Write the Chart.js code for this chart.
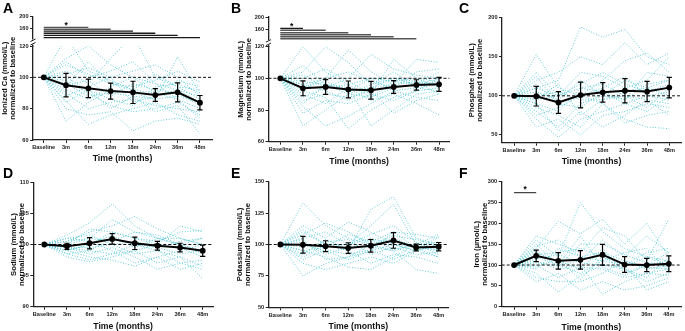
<!DOCTYPE html>
<html>
<head>
<meta charset="utf-8">
<script src="https://cdn.jsdelivr.net/npm/chart.js@4.4.1/dist/chart.umd.min.js"></script>
<style>
  body { margin: 0; background: #fff; }
  #fig { position: relative; width: 685px; height: 331px; overflow: hidden; background: #fff; }
  canvas { position: absolute; }
  .letter { position: absolute; font: bold 14px Arial, "Liberation Sans", sans-serif; line-height: 14px; color: #000; }
</style>
</head>
<body>
<div id="fig">
  <canvas id="chartA" style="left:0px;top:0px" width="228" height="170"></canvas>
  <canvas id="chartB" style="left:228px;top:0px" width="228" height="170"></canvas>
  <canvas id="chartC" style="left:456px;top:0px" width="229" height="170"></canvas>
  <canvas id="chartD" style="left:0px;top:165px" width="228" height="170"></canvas>
  <canvas id="chartE" style="left:228px;top:165px" width="228" height="170"></canvas>
  <canvas id="chartF" style="left:456px;top:165px" width="229" height="170"></canvas>
  <div class="letter" style="left:3px;top:1px">A</div>
  <div class="letter" style="left:231px;top:1px">B</div>
  <div class="letter" style="left:459px;top:1px">C</div>
  <div class="letter" style="left:3px;top:166px">D</div>
  <div class="letter" style="left:231px;top:166px">E</div>
  <div class="letter" style="left:459px;top:166px">F</div>
</div>
<script>
Chart.defaults.font.family = 'Arial, "Liberation Sans", sans-serif';
Chart.defaults.color = '#1a1a1a';

const timeLabels = ['Baseline', '3m', '6m', '12m', '18m', '24m', '36m', '48m'];

// A - ionized calcium
const caMean = [100, 95, 93, 91.2, 90.4, 88.7, 90.4, 83.8];
const caErr = [0, 7.5, 5.9, 5.1, 7.1, 4.1, 6.1, 4.6];
const caTicks = [60, 80, 100, 120];
const caUpperTicks = [160, 200];
const caSigEnd = [2, 3, 4, 5, 6, 7];
const caSigLevel = [165, 159, 153, 146, 139, 132];
const caStarX = [1];
const caStarY = [178];
const caPatients = [
  [100, 126, 104, 98, 92, 90, 86, 80],
  [100, 112, 120, 108, 100, 96, 92, 88],
  [100, 104, 96, 112, 127, 100, 94, 86],
  [100, 96, 88, 90, 88, 86, 113, 90],
  [100, 90, 80, 84, 86, 82, 80, 78],
  [100, 85, 70, 76, 80, 84, 76, 72],
  [100, 108, 102, 96, 94, 98, 104, 97],
  [100, 80, 76, 78, 66, 72, 74, 70],
  [100, 95, 98, 88, 96, 92, 90, 82],
  [100, 72, 84, 92, 90, 86, 88, 84],
  [100, 100, 92, 86, 82, 94, 96, 90],
  [100, 88, 94, 100, 104, 108, 100, 88],
  [100, 98, 90, 82, 78, 80, 84, 76],
  [100, 92, 86, 94, 100, 90, 98, 94],
  [100, 102, 106, 100, 84, 88, 92, 84],
  [100, 84, 92, 80, 88, 78, 82, 64],
  [100, 110, 100, 104, 110, 96, 86, 74],
  [100, 94, 110, 96, 92, 102, 94, 92],
];

// B - magnesium
const mgMean = [100, 93.7, 94.5, 93, 92.5, 94.5, 95.8, 96.2];
const mgErr = [0, 4.7, 4.7, 5.3, 5.6, 4, 3.3, 4.4];
const mgTicks = [60, 80, 100, 120];
const mgUpperTicks = [160, 200];
const mgSigEnd = [1, 2, 3, 4, 5, 6];
const mgSigLevel = [163, 157, 149, 142.5, 136, 129.5];
const mgStarX = [0.5];
const mgStarY = [177];
const mgPatients = [
  [100, 120, 104, 96, 100, 98, 100, 98],
  [100, 104, 120, 110, 96, 100, 96, 100],
  [100, 96, 100, 118, 104, 96, 98, 96],
  [100, 88, 94, 100, 115, 106, 102, 100],
  [100, 70, 80, 90, 88, 94, 96, 98],
  [100, 82, 70, 76, 84, 92, 94, 96],
  [100, 92, 88, 68, 80, 88, 92, 94],
  [100, 98, 96, 94, 70, 80, 90, 92],
  [100, 86, 90, 88, 92, 78, 86, 90],
  [100, 100, 106, 98, 90, 112, 100, 94],
  [100, 94, 98, 92, 94, 96, 112, 110],
  [100, 90, 84, 94, 86, 90, 84, 77],
  [100, 108, 96, 90, 96, 104, 94, 92],
  [100, 78, 86, 84, 90, 86, 92, 100],
  [100, 94, 100, 104, 98, 94, 104, 106],
  [100, 96, 92, 86, 94, 100, 98, 90],
  [100, 84, 96, 92, 100, 92, 88, 86],
  [100, 102, 94, 96, 88, 98, 96, 104],
];

// C - phosphate
const phMean = [100, 99.5, 91.5, 101, 104.5, 106.5, 105.5, 110.5];
const phErr = [0, 12.5, 14, 16.5, 12.5, 15.5, 13, 13];
const phTicks = [50, 100, 150, 200];
const phPatients = [
  [100, 110, 120, 188, 175, 185, 150, 140],
  [100, 120, 130, 150, 140, 168, 140, 155],
  [100, 153, 110, 100, 120, 145, 155, 130],
  [100, 95, 100, 130, 125, 110, 120, 150],
  [100, 80, 60, 90, 100, 120, 110, 120],
  [100, 70, 47, 70, 80, 90, 100, 95],
  [100, 60, 70, 50, 75, 80, 90, 85],
  [100, 90, 80, 110, 115, 100, 85, 110],
  [100, 105, 95, 120, 100, 95, 130, 125],
  [100, 115, 90, 100, 110, 125, 100, 105],
  [100, 85, 75, 60, 90, 70, 60, 58],
  [100, 100, 105, 95, 95, 105, 110, 100],
  [100, 125, 90, 85, 105, 90, 80, 100],
  [100, 90, 55, 80, 60, 75, 95, 75],
  [100, 110, 100, 115, 130, 115, 105, 115],
  [100, 75, 85, 100, 90, 65, 75, 80],
  [100, 95, 115, 75, 95, 100, 95, 90],
  [100, 130, 100, 110, 105, 95, 115, 120],
];

// D - sodium
const naMean = [100, 99.7, 100.2, 100.9, 100.2, 99.8, 99.5, 99];
const naErr = [0, 0.5, 0.9, 0.85, 1, 0.7, 0.7, 0.9];
const naTicks = [90, 95, 100, 105, 110];
const naPatients = [
  [100, 101.5, 103.5, 106.5, 103, 101, 100, 99],
  [100, 100.5, 102, 103, 104.5, 102.5, 101, 100],
  [100, 99, 100, 102, 101, 100, 103, 102],
  [100, 98, 97.2, 98, 99, 100, 99.5, 98],
  [100, 99.5, 98.5, 99.5, 98, 96, 97, 96],
  [100, 100, 101, 100.5, 102, 101, 100, 101],
  [100, 98.5, 99, 101, 100, 99, 98, 94.5],
  [100, 101, 100.5, 99, 97, 98, 96, 97],
  [100, 99, 98, 97.5, 96.5, 98, 99, 100],
  [100, 100, 102.5, 102, 101, 100.5, 102, 102.3],
  [100, 99.5, 99.5, 100, 100.5, 99.5, 98.5, 99],
  [100, 100.5, 101, 104, 102, 101.5, 100, 98.5],
  [100, 98.5, 97.5, 98.5, 99, 97, 98, 96.5],
  [100, 99, 100, 101.5, 99.5, 101, 101, 100],
  [100, 101, 101.5, 100, 98.5, 99, 97, 97.5],
  [100, 99.5, 99, 98.5, 100, 99.5, 100.5, 101],
];

// E - potassium
const kMean = [100, 99.8, 98.7, 97.2, 99, 103.2, 97.6, 98.3];
const kErr = [0, 6.6, 4.3, 4.2, 5, 6.2, 2.7, 3.3];
const kTicks = [50, 75, 100, 125, 150];
const kPatients = [
  [100, 133, 115, 105, 100, 95, 100, 98],
  [100, 115, 105, 118, 110, 100, 95, 100],
  [100, 110, 100, 95, 128, 138, 105, 100],
  [100, 105, 110, 100, 115, 132, 100, 108],
  [100, 75, 85, 90, 95, 100, 98, 95],
  [100, 85, 80, 85, 90, 85, 95, 90],
  [100, 95, 90, 82, 80, 90, 100, 102],
  [100, 100, 95, 88, 95, 110, 108, 105],
  [100, 90, 100, 95, 85, 92, 90, 85],
  [100, 108, 117, 110, 100, 105, 98, 96],
  [100, 95, 98, 100, 105, 100, 95, 100],
  [100, 102, 92, 98, 98, 95, 80, 77],
  [100, 112, 100, 100, 108, 115, 102, 95],
  [100, 88, 96, 92, 96, 88, 96, 106],
  [100, 98, 102, 104, 92, 98, 92, 94],
  [100, 104, 88, 90, 100, 107, 104, 99],
  [100, 92, 104, 96, 104, 96, 100, 92],
  [100, 100, 98, 108, 102, 110, 97, 90],
];

// F - iron
const feMean = [100, 122, 110, 112.4, 124.8, 101.2, 100, 103];
const feErr = [0, 14, 19.6, 22, 24.8, 18.8, 16, 19];
const feTicks = [0, 50, 100, 150, 200, 250, 300];
const feSigEnd = [1];
const feSigLevel = [274];
const feStarX = [0.5];
const feStarY = [286];
const fePatients = [
  [100, 160, 120, 250, 180, 140, 120, 100],
  [100, 140, 205, 175, 210, 150, 200, 120],
  [100, 170, 150, 130, 190, 170, 110, 210],
  [100, 120, 100, 110, 160, 120, 170, 130],
  [100, 80, 35, 75, 100, 90, 60, 80],
  [100, 60, 80, 40, 60, 40, 50, 70],
  [100, 110, 90, 100, 30, 60, 80, 90],
  [100, 130, 110, 90, 140, 80, 100, 110],
  [100, 90, 140, 120, 130, 110, 90, 100],
  [100, 150, 100, 80, 110, 100, 40, 60],
  [100, 100, 70, 95, 90, 70, 80, 75],
  [100, 125, 130, 140, 120, 100, 130, 140],
  [100, 70, 60, 60, 80, 110, 95, 90],
  [100, 115, 125, 105, 100, 95, 120, 110],
  [100, 135, 95, 150, 150, 125, 105, 95],
  [100, 95, 115, 65, 120, 90, 70, 120],
  [100, 145, 160, 120, 110, 130, 140, 85],
  [100, 105, 100, 170, 95, 75, 100, 130],
];

const patientColor = '#52c6d6';
const axisColor = '#222';
const tickFont = { size: 5.6, weight: 'bold' };

const toPoints = (vals) => vals.map((v, i) => ({ x: i, y: v }));

// error bars are drawn just before the mean line so markers sit on top
const errorBars = (mean, err) => ({
  id: 'errorBars',
  beforeDatasetDraw(chart, args) {
    if (chart.data.datasets[args.index].label !== 'Mean') return;
    const { ctx } = chart;
    const x = chart.scales.x;
    const y = chart.scales.y;
    ctx.save();
    ctx.strokeStyle = '#000';
    ctx.lineWidth = 1.2;
    mean.forEach((m, i) => {
      if (!err[i]) return;
      const px = x.getPixelForValue(i);
      const top = y.getPixelForValue(m + err[i]);
      const bot = y.getPixelForValue(m - err[i]);
      ctx.beginPath();
      ctx.moveTo(px, top); ctx.lineTo(px, bot);
      ctx.moveTo(px - 2.6, top); ctx.lineTo(px + 2.6, top);
      ctx.moveTo(px - 2.6, bot); ctx.lineTo(px + 2.6, bot);
      ctx.stroke();
    });
    ctx.restore();
  },
});

const stars = (xs, ys, axisId) => ({
  id: 'stars',
  afterDatasetsDraw(chart) {
    const { ctx } = chart;
    const x = chart.scales.x;
    const y = chart.scales[axisId];
    ctx.save();
    ctx.fillStyle = '#000';
    ctx.font = 'bold 8.5px Arial, "Liberation Sans", sans-serif';
    ctx.textAlign = 'center';
    ctx.textBaseline = 'alphabetic';
    xs.forEach((sx, i) => ctx.fillText('*', x.getPixelForValue(sx), y.getPixelForValue(ys[i]) + 4.6));
    ctx.restore();
  },
});

const axisBreak = {
  id: 'axisBreak',
  afterDraw(chart) {
    const { ctx } = chart;
    const y = chart.scales.y;
    const bx = y.right;
    const by = y.top - 4;
    ctx.save();
    ctx.fillStyle = '#fff';
    ctx.fillRect(bx - 1.5, by - 2.5, 3, 5);
    ctx.strokeStyle = axisColor;
    ctx.lineWidth = 1;
    ctx.beginPath();
    ctx.moveTo(bx - 2.5, by - 0.5); ctx.lineTo(bx + 2.5, by - 3);
    ctx.moveTo(bx - 2.5, by + 3); ctx.lineTo(bx + 2.5, by + 0.5);
    ctx.stroke();
    ctx.restore();
  },
};

const makePanel = (canvasId, p) => {
  const datasets = [
    {
      label: 'Mean',
      data: toPoints(p.mean),
      borderColor: '#000',
      backgroundColor: '#000',
      borderWidth: 2,
      pointRadius: 2.9,
      pointBorderWidth: 0,
      order: 0,
      yAxisID: 'y',
    },
    {
      label: 'Reference',
      data: [{ x: p.xMin, y: 100 }, { x: p.xMax, y: 100 }],
      borderColor: '#111',
      borderWidth: 1,
      borderDash: [3, 2],
      pointRadius: 0,
      order: 1,
      yAxisID: 'y',
    },
  ];
  p.patients.forEach((vals) => {
    datasets.push({
      data: toPoints(vals),
      borderColor: patientColor,
      borderWidth: 1,
      borderDash: [0.9, 1.8],
      pointRadius: 0,
      order: 3,
      yAxisID: 'y',
    });
  });
  if (p.sig) {
    p.sig.ends.forEach((end, k) => {
      datasets.push({
        data: [{ x: 0, y: p.sig.levels[k] }, { x: end, y: p.sig.levels[k] }],
        borderColor: p.sig.colors[k],
        borderWidth: 1.3,
        pointRadius: 0,
        order: 2,
        yAxisID: p.sig.axis,
      });
    });
  }

  const yTitle = {
    display: true,
    text: p.title,
    font: { size: 7.7, weight: 'bold', lineHeight: 1 },
    padding: { top: p.titlePad, bottom: 0 },
    color: '#111',
  };

  const scales = {
    x: {
      type: 'linear',
      min: p.xMin,
      max: p.xMax,
      afterBuildTicks: (s) => { s.ticks = timeLabels.map((_, i) => ({ value: i })); },
      afterFit: (s) => { s.height = p.xAxisH; },
      ticks: { callback: (v) => timeLabels[v], autoSkip: false, maxRotation: 0, padding: 1.5, font: tickFont, color: axisColor },
      grid: { display: true, drawOnChartArea: false, tickLength: 3, color: axisColor },
      border: { color: axisColor, width: 1.3 },
      title: {
        display: true,
        text: 'Time (months)',
        font: { size: 8.7, weight: 'bold', lineHeight: 1 },
        padding: { top: 0, bottom: p.xTitlePad },
        color: '#111',
      },
    },
    y: {
      type: 'linear',
      position: 'left',
      min: p.yMin,
      max: p.yMax,
      afterBuildTicks: (s) => { s.ticks = p.ticks.map((v) => ({ value: v })); },
      afterFit: (s) => { s.width = p.yAxisW; },
      ticks: { padding: 1.5, font: tickFont, color: axisColor },
      grid: { display: true, drawOnChartArea: false, tickLength: 3, color: axisColor },
      border: { color: axisColor, width: 1.3 },
      title: p.upper ? { display: false } : yTitle,
    },
  };

  const plugins = [errorBars(p.mean, p.err)];
  if (p.upper) {
    scales.y.stack = 'split';
    scales.y.stackWeight = p.upper.lowerWeight;
    scales.y.weight = 0;
    scales.y2 = {
      type: 'linear',
      position: 'left',
      stack: 'split',
      stackWeight: p.upper.upperWeight,
      weight: 1,
      min: p.upper.min,
      max: p.upper.max,
      afterBuildTicks: (s) => { s.ticks = p.upper.ticks.map((v) => ({ value: v })); },
      afterFit: (s) => { s.width = p.yAxisW; },
      ticks: { padding: 1.5, font: tickFont, color: axisColor },
      grid: { display: true, drawOnChartArea: false, tickLength: 3, color: axisColor },
      border: { color: axisColor, width: 1.3 },
    };
    // title-only axis so the label is centred on the whole broken axis
    scales.yt = {
      type: 'linear',
      position: 'left',
      weight: 2,
      min: 0,
      max: 1,
      afterFit: (s) => { s.width = p.upper.titleW; },
      ticks: { display: false },
      grid: { display: false },
      border: { display: false },
      title: yTitle,
    };
    plugins.push(axisBreak);
  }
  if (p.stars) plugins.push(stars(p.stars.x, p.stars.y, p.stars.axis));

  const config = {
    type: 'line',
    data: { datasets: datasets },
    options: {
      responsive: false,
      animation: false,
      devicePixelRatio: 1,
      layout: { padding: { left: p.padLeft, top: p.top, right: p.padRight, bottom: 0 } },
      scales: scales,
      plugins: { legend: { display: false }, tooltip: { enabled: false } },
    },
    plugins: plugins,
  };
  new Chart(document.getElementById(canvasId), config);
};

makePanel('chartA', {
  title: ['Ionized Ca (mmol/L)', 'normalized to baseline'], titlePad: 1.4,
  mean: caMean, err: caErr, patients: caPatients, ticks: caTicks, yMin: 60, yMax: 120,
  upper: { min: 105, max: 200, ticks: caUpperTicks, upperWeight: 29.5, lowerWeight: 94, titleW: 16 },
  sig: { ends: caSigEnd, levels: caSigLevel, axis: 'y2', colors: ['#555', '#555', '#1a1a1a', '#1a1a1a', '#1a1a1a', '#1a1a1a'] },
  stars: { x: caStarX, y: caStarY, axis: 'y2' },
  padLeft: 0, padRight: 16, top: 16.5, yAxisW: 17, xAxisH: 30, xTitlePad: 7.3, xMin: -0.48, xMax: 7.54,
});

makePanel('chartB', {
  title: ['Magnesium (mmol/L)', 'normalized to baseline'], titlePad: 1,
  mean: mgMean, err: mgErr, patients: mgPatients, ticks: mgTicks, yMin: 60, yMax: 120,
  upper: { min: 104, max: 200, ticks: mgUpperTicks, upperWeight: 29.6, lowerWeight: 95.1, titleW: 16 },
  sig: { ends: mgSigEnd, levels: mgSigLevel, axis: 'y2', colors: ['#1a1a1a', '#555', '#555', '#555', '#555', '#555'] },
  stars: { x: mgStarX, y: mgStarY, axis: 'y2' },
  padLeft: 8, padRight: 6.3, top: 17, yAxisW: 16.5, xAxisH: 28.3, xTitlePad: 4, xMin: -0.52, xMax: 7.47,
});

makePanel('chartC', {
  title: ['Phosphate (mmol/L)', 'normalized to baseline'], titlePad: 0.5,
  mean: phMean, err: phErr, patients: phPatients, ticks: phTicks, yMin: 40, yMax: 200,
  padLeft: 12, padRight: 1, top: 17.7, yAxisW: 34, xAxisH: 27.3, xTitlePad: 4, xMin: -0.546, xMax: 7.53,
});

makePanel('chartD', {
  title: ['Sodium (mmol/L)', 'normalized to baseline'], titlePad: 0.5,
  mean: naMean, err: naErr, patients: naPatients, ticks: naTicks, yMin: 90, yMax: 110,
  padLeft: 9.5, padRight: 15, top: 17.3, yAxisW: 23.8, xAxisH: 28.3, xTitlePad: 4, xMin: -0.486, xMax: 7.455,
});

makePanel('chartE', {
  title: ['Potassium (mmol/L)', 'normalized to baseline'], titlePad: 0.5,
  mean: kMean, err: kErr, patients: kPatients, ticks: kTicks, yMin: 50, yMax: 150,
  padLeft: 7.5, padRight: 8, top: 16.7, yAxisW: 33.2, xAxisH: 27.7, xTitlePad: 4, xMin: -0.513, xMax: 7.41,
});

makePanel('chartF', {
  title: ['Iron (µmol/L)', 'normalized to baseline'], titlePad: 0.5,
  mean: feMean, err: feErr, patients: fePatients, ticks: feTicks, yMin: 0, yMax: 300,
  sig: { ends: feSigEnd, levels: feSigLevel, axis: 'y', colors: ['#444'] },
  stars: { x: feStarX, y: feStarY, axis: 'y' },
  padLeft: 17, padRight: 1, top: 16.7, yAxisW: 28.7, xAxisH: 28.3, xTitlePad: 3.4, xMin: -0.56, xMax: 7.55,
});
</script>
</body>
</html>
